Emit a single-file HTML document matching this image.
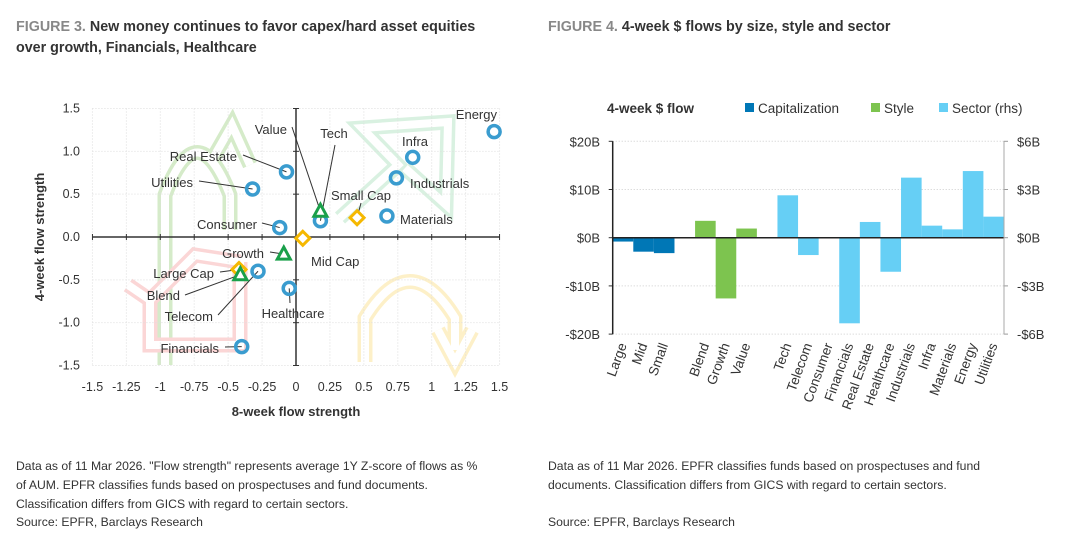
<!DOCTYPE html>
<html><head><meta charset="utf-8"><style>
body{margin:0;background:#fff;width:1080px;height:543px;overflow:hidden;font-family:"Liberation Sans",sans-serif;}
svg text{font-family:"Liberation Sans",sans-serif;}
</style></head><body>
<svg id="s" width="1080" height="543">
<g font-weight="bold" font-size="14.3" fill="#333">
<text x="16" y="31"><tspan fill="#888">FIGURE 3.</tspan> New money continues to favor capex/hard asset equities</text>
<text x="16" y="52">over growth, Financials, Healthcare</text></g>
<text x="548" y="31" font-weight="bold" font-size="14.3" fill="#333"><tspan fill="#888">FIGURE 4.</tspan> 4-week $ flows by size, style and sector</text>
<g font-size="12.2" fill="#333">
<text x="16" y="470">Data as of 11 Mar 2026. "Flow strength" represents average 1Y Z-score of flows as %</text>
<text x="16" y="489">of AUM. EPFR classifies funds based on prospectuses and fund documents.</text>
<text x="16" y="508">Classification differs from GICS with regard to certain sectors.</text>
<text x="16" y="526">Source: EPFR, Barclays Research</text></g>
<g font-size="12.2" fill="#333">
<text x="548" y="470">Data as of 11 Mar 2026. EPFR classifies funds based on prospectuses and fund</text>
<text x="548" y="489">documents. Classification differs from GICS with regard to certain sectors.</text>
<text x="548" y="526">Source: EPFR, Barclays Research</text></g>
<g id="sc"></g><g id="bc"></g>
</svg>
<script>
// Scatter data
const scNames=["Energy","Infra","Industrials","Materials","Small Cap","Tech","Value","Mid Cap","Consumer","Real Estate","Utilities","Growth","Telecom","Large Cap","Blend","Healthcare","Financials"];
const scX=[1.46,0.86,0.74,0.67,0.45,0.18,0.18,0.05,-0.12,-0.07,-0.32,-0.09,-0.28,-0.42,-0.41,-0.05,-0.40];
const scY=[1.23,0.93,0.69,0.245,0.225,0.19,0.30,-0.015,0.11,0.76,0.56,-0.20,-0.40,-0.38,-0.44,-0.60,-1.28];
const scKind=["c","c","c","c","d","c","t","d","c","c","c","t","c","d","t","c","c"];
const xTicks=["-1.5","-1.25","-1","-0.75","-0.5","-0.25","0","0.25","0.5","0.75","1","1.25","1.5"];
const yTicks=["1.5","1.0","0.5","0.0","-0.5","-1.0","-1.5"];
// Bar data
const barCats=["Large","Mid","Small","","Blend","Growth","Value","","Tech","Telecom","Consumer","Financials","Real Estate","Healthcare","Industrials","Infra","Materials","Energy","Utilities"];
const barVals=[-0.8,-2.9,-3.2,null,3.5,-12.6,1.9,null,2.64,-1.08,-0.05,-5.33,0.98,-2.12,3.74,0.75,0.52,4.15,1.31];
const barGroup=["cap","cap","cap","","sty","sty","sty","","sec","sec","sec","sec","sec","sec","sec","sec","sec","sec","sec"];
const leftTicks=[20,10,0,-10,-20];
const rightTicks=[6,3,0,-3,-6];
const NS="http://www.w3.org/2000/svg";
function mk(p,t,a,txt){const e=document.createElementNS(NS,t);for(const k in a)e.setAttribute(k,a[k]);if(txt!=null)e.textContent=txt;p.appendChild(e);return e;}
const sc=document.getElementById('sc'), bc=document.getElementById('bc');
const sx=v=>296+v*135.7, sy=v=>237-v*85.67;
// background arrows (outlined)
const bg=[["M165,365 L165,195 Q197,110 230,195 L230,230 M212,160 L232,125 L250,165","#d5ebc9"],
["M240,262 L240,345 L150,345 L150,300 L195,255 L240,262 M150,300 L128,285","#fbd6d6"],
["M340,218 L398,165 L362,128 L448,122 L446,205 L405,168","#d9f1e1"],
["M365,362 L365,318 Q410,245 455,318 L455,350 M438,330 L455,362 L472,330","#fdf0c8"]];
bg.forEach((b,i)=>{const e=mk(sc,'path',{d:b[0],fill:'none',stroke:b[1],'stroke-width':15,'stroke-linejoin':'miter'});


const f=mk(sc,'path',{d:b[0],fill:'none',stroke:'#fff','stroke-width':8,'stroke-linejoin':'miter'});

});
// grid
for(let i=0;i<13;i++){const x=sx(-1.5+i*0.25);const g=mk(sc,'line',{x1:x,x2:x,y1:sy(1.5),y2:sy(-1.5),stroke:'#ddd','stroke-dasharray':'1,2'});


const t=mk(sc,'text',{x:x,y:391,'text-anchor':'middle','font-size':12.5,fill:'#333'},xTicks[i]);


mk(sc,'line',{x1:x,x2:x,y1:234,y2:240,stroke:'#333','stroke-width':1});}
for(let i=0;i<7;i++){const y=sy(1.5-i*0.5);const g=mk(sc,'line',{x1:sx(-1.5),x2:sx(1.5),y1:y,y2:y,stroke:'#ddd','stroke-dasharray':'1,2'});


const t=mk(sc,'text',{x:80,y:y+4,'text-anchor':'end','font-size':12.5,fill:'#333'},yTicks[i]);


mk(sc,'line',{x1:293,x2:299,y1:y,y2:y,stroke:'#333'});}
const xa=mk(sc,'line',{x1:sx(-1.5),x2:sx(1.5),y1:sy(0),y2:sy(0),stroke:'#333','stroke-width':1.5});


const ya=mk(sc,'line',{x1:sx(0),x2:sx(0),y1:sy(1.5),y2:sy(-1.5),stroke:'#333','stroke-width':1.5});


const xt=mk(sc,'text',{x:296,y:416,'text-anchor':'middle','font-size':13,'font-weight':'bold',fill:'#333'},'8-week flow strength');


const yt=mk(sc,'text',{x:0,y:0,transform:'translate(44,237) rotate(-90)','text-anchor':'middle','font-size':13,'font-weight':'bold',fill:'#333'},'4-week flow strength');


const lab={"Energy":[497,119,'end'],"Infra":[415,146,'middle'],"Industrials":[410,188,'start'],"Materials":[400,224,'start'],"Small Cap":[331,200,'start',361,203],"Tech":[334,138,'middle',335,145],"Value":[287,134,'end',292,127],"Mid Cap":[311,266,'start'],"Consumer":[257,229,'end',262,223],"Real Estate":[237,161,'end',243,155],"Utilities":[193,187,'end',199,181],"Growth":[264,258,'end',270,252],"Telecom":[213,321,'end',218,315],"Large Cap":[214,278,'end',220,272],"Blend":[180,300,'end',185,295],"Healthcare":[293,318,'middle',290,303],"Financials":[219,353,'end',225,347]};
scNames.forEach((n,i)=>{const px=sx(scX[i]),py=sy(scY[i]);const L=lab[n];
if(L[3]!==undefined){const l=mk(sc,'line',{x1:L[3],y1:L[4],x2:px,y2:py,stroke:'#333','stroke-width':1});

}
let m;
if(scKind[i]=='c'){m=mk(sc,'circle',{cx:px,cy:py,r:6,fill:'none',stroke:'#3a9ccf','stroke-width':3.5});}
else if(scKind[i]=='d'){m=mk(sc,'path',{d:`M${px},${py-7}L${px+7},${py}L${px},${py+7}L${px-7},${py}Z`,fill:'#fff',stroke:'#f5b800','stroke-width':3});}
else {m=mk(sc,'path',{d:`M${px},${py-7}L${px+6.5},${py+5}L${px-6.5},${py+5}Z`,fill:'#fff',stroke:'#1aa04a','stroke-width':3});}


const t=mk(sc,'text',{x:L[0],y:L[1],'text-anchor':L[2],'font-size':13,fill:'#333'},n);

});
// Bar chart
const L0=612.7,R0=1004,slot=(R0-L0)/19;
const by=v=>237.7-v*4.82, byr=v=>237.7-v*16.06;
const bt=mk(bc,'text',{x:607,y:113,'font-size':13.5,'font-weight':'bold',fill:'#333'},'4-week $ flow');


const leg=[["Capitalization","#0077b6",745],["Style","#7dc44f",871],["Sector (rhs)","#66cff5",939]];
leg.forEach(g=>{const r=mk(bc,'rect',{x:g[2],y:103,width:9,height:9,fill:g[1]});


const t=mk(bc,'text',{x:g[2]+13,y:113,'font-size':13.5,fill:'#333'},g[0]);

});
leftTicks.forEach((v,i)=>{const y=by(v);
if(v!==0){const g=mk(bc,'line',{x1:L0,x2:R0,y1:y,y2:y,stroke:'#ccc','stroke-dasharray':'1,2'});

}
mk(bc,'line',{x1:L0-4,x2:L0,y1:y,y2:y,stroke:'#333'});
mk(bc,'line',{x1:R0,x2:R0+4,y1:y,y2:y,stroke:'#999'});
const t=mk(bc,'text',{x:600,y:y+5,'text-anchor':'end','font-size':13,fill:'#333'},(v<0?'-':'')+'$'+Math.abs(v)+'B');


const rv=rightTicks[i];
const t2=mk(bc,'text',{x:1017,y:byr(rv)+5,'font-size':13,fill:'#333'},(rv<0?'-':'')+'$'+Math.abs(rv)+'B');

});
const cols={cap:'#0077b6',sty:'#7dc44f',sec:'#66cff5'};
barCats.forEach((c,i)=>{const v=barVals[i];const x=L0+i*slot;
if(v!==null){const yy=barGroup[i]=='sec'?byr:by;const a=yy(v),b=yy(0);
const r=mk(bc,'rect',{x:x,y:Math.min(a,b),width:slot,height:Math.max(Math.abs(a-b),0.5),fill:cols[barGroup[i]]});

}
if(c){const cx=x+slot/2+4;const t=mk(bc,'text',{x:0,y:0,transform:`translate(${cx},345) rotate(-70)`,'text-anchor':'end','font-size':13.5,fill:'#333'},c);

}});
const ax=mk(bc,'line',{x1:L0,x2:R0,y1:by(0),y2:by(0),stroke:'#222','stroke-width':1.5});


const la=mk(bc,'line',{x1:L0,x2:L0,y1:by(20),y2:by(-20),stroke:'#222','stroke-width':1.5});


const ra=mk(bc,'line',{x1:R0,x2:R0,y1:by(20),y2:by(-20),stroke:'#aaa','stroke-width':1});


</script>
</body></html>
